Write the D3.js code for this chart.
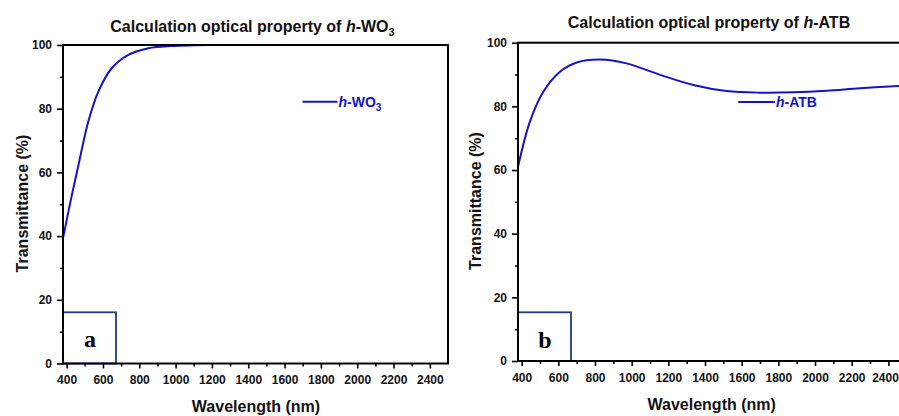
<!DOCTYPE html>
<html><head><meta charset="utf-8">
<script src="https://cdn.jsdelivr.net/npm/d3@7"></script>
<style>
html,body{margin:0;padding:0;background:#fff;overflow:hidden;}
svg{display:block;}
text{font-family:"Liberation Sans",Arial,sans-serif;font-weight:bold;}
</style></head>
<body>
<svg id="chart" width="899" height="416"></svg>
<script>
// ---- data ----
const wavelengthA = [380, 420, 464, 519, 574, 648, 740, 850, 978, 1100, 1250, 1400, 1600, 1800, 1950];
const transmittanceA = [39.3, 50.5, 62.0, 75.9, 85.3, 92.7, 96.9, 99.0, 99.7, 99.9, 100, 100, 100, 100, 100];
const wavelengthB = [380, 445, 518, 609, 700, 827, 972, 1155, 1336, 1518, 1700, 1882, 2064, 2246, 2455, 2500];
const transmittanceB = [61.0, 75.2, 84.6, 90.9, 93.8, 94.7, 93.5, 89.9, 86.7, 84.8, 84.3, 84.4, 84.9, 85.7, 86.4, 86.5];
const xMajorTicks = [400, 600, 800, 1000, 1200, 1400, 1600, 1800, 2000, 2200, 2400];
const xMinorTicks = [500, 700, 900, 1100, 1300, 1500, 1700, 1900, 2100, 2300];
const yMajorTicks = [0, 20, 40, 60, 80, 100];
const yMinorTicks = [10, 30, 50, 70, 90];
const materials = ["WO", "ATB"];
const panelLetters = ["a", "b"];
const xTitle = "Wavelength (nm)";
const yTitle = "Transmittance (%)";

const blue = "#1414c4";
const navy = "#1f3a80";
const W = 899;
const svg = d3.select("#chart");

const panels = [
  {x: wavelengthA, y: transmittanceA, mat: materials[0], sub: "3", letter: panelLetters[0],
   left: 63, right: 448, top: 45, bottom: 363.5,
   titleX: 252.5, titleY: 32, legX1: 302.5, legX2: 337.5, legY: 101.7, legTextY: 106.5,
   yTitleX: 22.7, yTitleY: 203.5, xTitleX: 256, xTitleY: 411.5, xLabY: 384,
   boxX2: 116, boxY1: 312.3, letterX: 90, letterY: 347},
  {x: wavelengthB, y: transmittanceB, mat: materials[1], sub: "", letter: panelLetters[1],
   left: 518, right: 906.7, top: 42.7, bottom: 361,
   titleX: 709, titleY: 27.5, legX1: 738.3, legX2: 775, legY: 102, legTextY: 107,
   yTitleX: 475.3, yTitleY: 201, xTitleX: 711.7, xTitleY: 410, xLabY: 381.7,
   boxX2: 571, boxY1: 312.3, letterX: 545, letterY: 348}
];

panels.forEach(p => {
  const g = svg.append("g");
  const x = d3.scaleLinear().domain([380, 2500]).range([p.left, p.right]);
  const y = d3.scaleLinear().domain([0, 100]).range([p.bottom, p.top]);

  // minor ticks
  g.append("g").attr("transform", `translate(0,${p.bottom})`)
    .call(d3.axisBottom(x).tickValues(xMinorTicks).tickSize(3).tickFormat(""))
    .call(a => a.select(".domain").remove())
    .selectAll("line").attr("stroke", "#000").attr("stroke-width", 1.6);
  g.append("g").attr("transform", `translate(${p.left},0)`)
    .call(d3.axisLeft(y).tickValues(yMinorTicks).tickSize(3).tickFormat(""))
    .call(a => a.select(".domain").remove())
    .selectAll("line").attr("stroke", "#000").attr("stroke-width", 1.6);

  // major ticks + labels
  const xa = g.append("g").attr("transform", `translate(0,${p.bottom})`)
    .call(d3.axisBottom(x).tickValues(xMajorTicks).tickSize(5).tickPadding(4).tickFormat(d3.format("d")));
  xa.select(".domain").remove();
  xa.selectAll("line").attr("stroke", "#000").attr("stroke-width", 1.6);
  xa.selectAll("text").attr("font-size", 12).attr("fill", "#111")
    .attr("dy", null).attr("y", p.xLabY - p.bottom)
    .each(function(d) {
      // keep the label inside the page
      const bb = this.getBBox();
      const cx = x(d);
      if (cx + bb.width / 2 > W - 0.5) {
        d3.select(this).attr("x", (W - 0.5 - bb.width / 2) - cx);
      }
    });

  const ya = g.append("g").attr("transform", `translate(${p.left},0)`)
    .call(d3.axisLeft(y).tickValues(yMajorTicks).tickSize(6).tickPadding(5));
  ya.select(".domain").remove();
  ya.selectAll("line").attr("stroke", "#000").attr("stroke-width", 1.6);
  ya.selectAll("text").attr("font-size", 12).attr("fill", "#111");

  // letter box
  g.append("rect").attr("x", p.left).attr("y", p.boxY1)
    .attr("width", p.boxX2 - p.left).attr("height", p.bottom - p.boxY1)
    .attr("fill", "#fff").attr("stroke", navy).attr("stroke-width", 1.8);
  g.append("text").attr("x", p.letterX).attr("y", p.letterY)
    .attr("text-anchor", "middle").attr("font-size", 24)
    .style("font-family", "'Liberation Serif','Times New Roman',serif")
    .attr("fill", "#000").text(p.letter);

  // curve
  const line = d3.line().x((d, i) => x(p.x[i])).y(d => y(d)).curve(d3.curveCatmullRom.alpha(0.5));
  g.append("path").datum(p.y).attr("d", line)
    .attr("fill", "none").attr("stroke", blue).attr("stroke-width", 2);

  // frame
  g.append("rect").attr("x", p.left).attr("y", p.top)
    .attr("width", p.right - p.left).attr("height", p.bottom - p.top)
    .attr("fill", "none").attr("stroke", "#000").attr("stroke-width", 2);

  // title
  const t = g.append("text").attr("x", p.titleX).attr("y", p.titleY)
    .attr("text-anchor", "middle").attr("font-size", 16).attr("fill", "#111");
  t.append("tspan").text("Calculation optical property of ");
  t.append("tspan").attr("font-style", "italic").text("h");
  t.append("tspan").text("-" + p.mat);
  if (p.sub) t.append("tspan").attr("font-size", 11).attr("dy", 4).text(p.sub);

  // legend
  g.append("line").attr("x1", p.legX1).attr("x2", p.legX2)
    .attr("y1", p.legY).attr("y2", p.legY).attr("stroke", blue).attr("stroke-width", 2);
  const lt = g.append("text").attr("x", p.legX2 + 1).attr("y", p.legTextY)
    .attr("font-size", 14).attr("fill", blue);
  lt.append("tspan").attr("font-style", "italic").text("h");
  lt.append("tspan").text("-" + p.mat);
  if (p.sub) lt.append("tspan").attr("font-size", 10).attr("dy", 4).text(p.sub);

  // axis titles
  g.append("text").attr("transform", `translate(${p.yTitleX},${p.yTitleY}) rotate(-90)`)
    .attr("text-anchor", "middle").attr("dy", "0.36em").attr("font-size", 16)
    .attr("fill", "#111").text(yTitle);
  g.append("text").attr("x", p.xTitleX).attr("y", p.xTitleY)
    .attr("text-anchor", "middle").attr("font-size", 16).attr("fill", "#111").text(xTitle);
});
</script>
</body></html>
